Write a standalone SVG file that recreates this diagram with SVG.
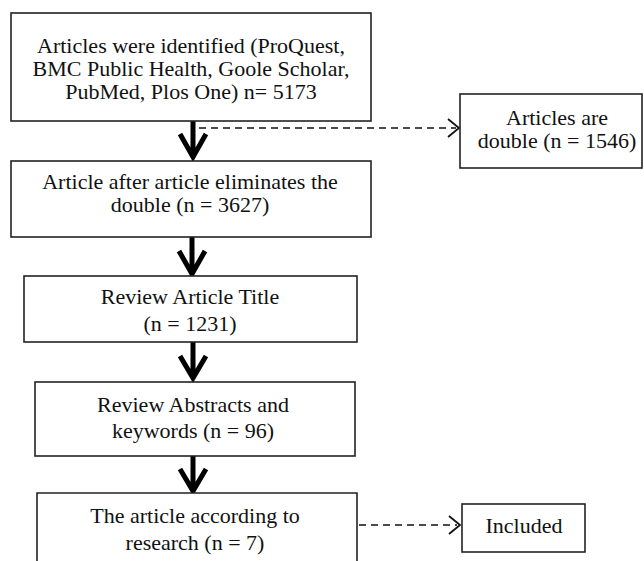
<svg xmlns="http://www.w3.org/2000/svg" width="644" height="561" viewBox="0 0 644 561">
<style>
.box{fill:#fff;stroke:#222;stroke-width:1.6}
.t{font-family:"Liberation Serif","Times New Roman",serif;font-size:22px;fill:#111;text-anchor:middle}
.thick{fill:none;stroke:#000;stroke-width:5}
.dash{fill:none;stroke:#111;stroke-width:1.6;stroke-dasharray:7 5}
.chev{fill:none;stroke:#111;stroke-width:1.8}
</style>
<rect width="644" height="561" fill="#fff"/>
<g id="connectors">
<path class="thick" d="M193,121 V156 M180,134 L193,157 L206,134"/>
<path class="thick" d="M192,237 V273 M179,251 L192,274 L205,251"/>
<path class="thick" d="M193,342 V377 M180,356 L193,378 L206,356"/>
<path class="thick" d="M193,456 V490 M180,469 L193,491 L206,469"/>
<path class="dash" d="M199,128 H456"/>
<path class="chev" d="M448,119 L459,128 L448,137"/>
<path class="dash" d="M359,525 H457"/>
<path class="chev" d="M449,516 L460,525 L449,534"/>
</g>
<g id="n1">
<rect class="box" x="11" y="13" width="360" height="108"/>
<text class="t" x="191" y="53">Articles were identified (ProQuest,</text>
<text class="t" x="191" y="76">BMC Public Health, Goole Scholar,</text>
<text class="t" x="191" y="99">PubMed, Plos One) n= 5173</text>
</g>
<g id="n2">
<rect class="box" x="460" y="94" width="182" height="74"/>
<text class="t" x="557" y="125">Articles are</text>
<text class="t" x="557" y="148">double (n = 1546)</text>
</g>
<g id="n3">
<rect class="box" x="11" y="161" width="360" height="76"/>
<text class="t" x="190" y="189">Article after article eliminates the</text>
<text class="t" x="190" y="212">double (n = 3627)</text>
</g>
<g id="n4">
<rect class="box" x="24" y="276" width="333" height="66"/>
<text class="t" x="190" y="304">Review Article Title</text>
<text class="t" x="190" y="331">(n = 1231)</text>
</g>
<g id="n5">
<rect class="box" x="35" y="382" width="320" height="74"/>
<text class="t" x="193" y="412">Review Abstracts and</text>
<text class="t" x="193" y="438">keywords (n = 96)</text>
</g>
<g id="n6">
<path class="box" d="M37,562 V493 H357 V562"/>
<text class="t" x="195" y="523">The article according to</text>
<text class="t" x="195" y="550">research (n = 7)</text>
</g>
<g id="n7">
<rect class="box" x="462" y="504" width="123" height="48"/>
<text class="t" x="524" y="533">Included</text>
</g>
</svg>
